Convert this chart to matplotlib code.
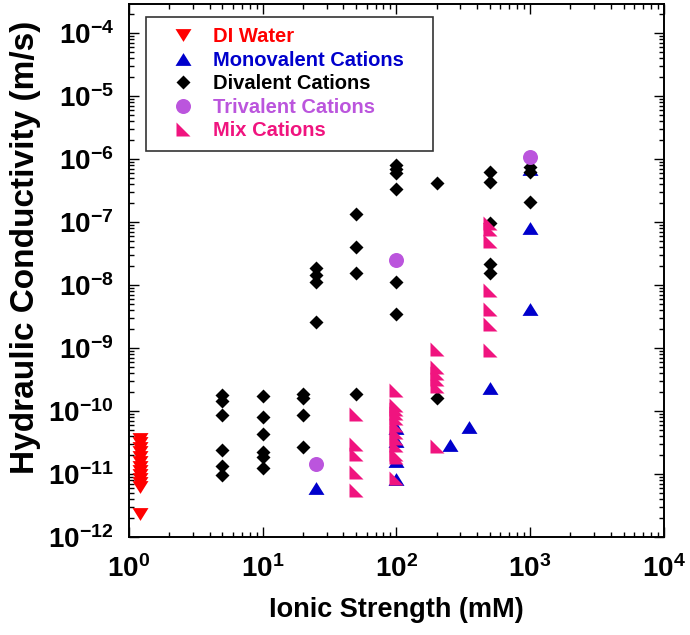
import matplotlib
matplotlib.use("Agg")
import matplotlib.pyplot as plt
from matplotlib.path import Path
from matplotlib.ticker import LogLocator, FuncFormatter, NullFormatter
import numpy as np

plt.rcParams['font.family'] = ['Liberation Sans', 'DejaVu Sans']
plt.rcParams['font.weight'] = 'bold'
plt.rcParams['mathtext.fontset'] = 'custom'
plt.rcParams['mathtext.rm'] = 'Liberation Sans:bold'
plt.rcParams['mathtext.bf'] = 'Liberation Sans:bold'
plt.rcParams['mathtext.it'] = 'Liberation Sans:bold'

# ionic strength (mM) and hydraulic conductivity (m/s) for each permeant group
di_x = [1.2] * 13
di_y = [3.6e-11, 3.1e-11, 2.6e-11, 2.2e-11, 1.85e-11, 1.55e-11, 1.3e-11,
        1.1e-11, 9.5e-12, 8.2e-12, 7.1e-12, 6.2e-12, 2.3e-12]

mono_x = [25, 100, 100, 100, 100, 250, 350, 500, 1000, 1000, 1000]
mono_y = [5.9e-12, 5.4e-11, 3.3e-11, 1.6e-11, 8.3e-12, 2.9e-11, 5.6e-11,
          2.3e-10, 7.0e-7, 8.2e-8, 4.1e-9]

div_x = ([5] * 6 + [10] * 6 + [20] * 4 + [25] * 4 + [50] * 4 + [100] * 6
         + [200] * 2 + [500] * 5 + [1000] * 3)
div_y = [1.8e-10, 1.44e-10, 8.6e-11, 2.4e-11, 1.34e-11, 9.6e-12,
         1.73e-10, 8.0e-11, 4.3e-11, 2.2e-11, 1.86e-11, 1.25e-11,
         1.86e-10, 1.6e-10, 8.6e-11, 2.7e-11,
         1.86e-8, 1.44e-8, 1.12e-8, 2.6e-9,
         1.34e-7, 4.0e-8, 1.55e-8, 1.86e-10,
         8.0e-7, 7.0e-7, 6.0e-7, 3.3e-7, 1.1e-8, 3.5e-9,
         4.1e-7, 1.59e-10,
         6.3e-7, 4.4e-7, 9.5e-8, 2.2e-8, 1.53e-8,
         7.55e-7, 6.3e-7, 2.1e-7]

tri_x = [25, 100, 1000]
tri_y = [1.44e-11, 2.5e-8, 1.09e-6]

mix_x = [50] * 5 + [100] * 12 + [200] * 6 + [500] * 7
mix_y = [9.0e-11, 3.0e-11, 2.1e-11, 1.08e-11, 5.6e-12,
         2.13e-10, 1.26e-10, 1.06e-10, 9.2e-11, 7.7e-11, 6.0e-11, 4.7e-11,
         3.7e-11, 2.9e-11, 2.1e-11, 1.84e-11, 8.6e-12,
         9.6e-10, 5.0e-10, 4.05e-10, 3.2e-10, 2.5e-10, 2.8e-11,
         9.7e-8, 7.9e-8, 5.0e-8, 8.3e-9, 4.1e-9, 2.4e-9, 9.2e-10]

RED = '#ff0000'
BLUE = '#0000cc'
PURPLE = '#bb55dd'
PINK = '#f0147f'

# slightly flattened triangles and a right-angle triangle marker
tri_up = Path([(0, 0.8), (-1, -0.8), (1, -0.8), (0, 0.8)], closed=True)
tri_down = Path([(0, -0.8), (-1, 0.8), (1, 0.8), (0, -0.8)], closed=True)
corner = Path([(-1, 1), (-1, -1), (1, -1), (-1, 1)], closed=True)

fig = plt.figure(figsize=(6.9, 6.35), dpi=100)
ax = fig.add_axes([0.187, 0.1543, 0.775, 0.8394])

ax.plot(di_x, di_y, ls='none', marker=tri_down, ms=11.5, color=RED,
        mec='none', label='DI Water')
ax.plot(mono_x, mono_y, ls='none', marker=tri_up, ms=11.5, color=BLUE,
        mec='none', label='Monovalent Cations')
ax.plot(div_x, div_y, ls='none', marker='D', ms=7.6, color='black',
        mec='none', label='Divalent Cations')
ax.plot(tri_x, tri_y, ls='none', marker='o', ms=10.8, color=PURPLE,
        mec='none', label='Trivalent Cations')
ax.plot(mix_x, mix_y, ls='none', marker=corner, ms=9.4, color=PINK,
        mec='none', label='Mix Cations')

ax.set_xscale('log')
ax.set_yscale('log')
ax.set_xlim(1, 1e4)
ax.set_ylim(1e-12, 2.9e-4)

def power_label(v, pos):
    return r'$\mathbf{10^{%d}}$' % int(round(np.log10(v)))

for axis in (ax.xaxis, ax.yaxis):
    axis.set_major_locator(LogLocator(base=10, numticks=20))
    axis.set_minor_locator(LogLocator(base=10, subs=np.arange(2, 10), numticks=20))
    axis.set_major_formatter(FuncFormatter(power_label))
    axis.set_minor_formatter(NullFormatter())

ax.tick_params(which='both', direction='in', top=True, right=True, width=1)
ax.tick_params(which='major', length=7.2, labelsize=20)
ax.tick_params(which='minor', length=3.6)
ax.tick_params(axis='x', which='major', pad=13)
ax.tick_params(axis='y', which='major', pad=11)
for sp in ax.spines.values():
    sp.set_linewidth(1.4)

ax.set_xlabel('Ionic Strength (mM)', fontsize=19.5, fontweight='bold')
ax.set_ylabel('Hydraulic Conductivity (m/s)', fontsize=24, fontweight='bold')
ax.xaxis.set_label_coords(0.5, -0.1126)
ax.yaxis.set_label_coords(-0.164, 0.544)

leg = ax.legend(loc='upper left', bbox_to_anchor=(0.0318, 0.726, 0.536, 0.2496),
                mode='expand', fontsize=14.5, frameon=True, fancybox=False,
                edgecolor='black', handlelength=2.6, handletextpad=0.22,
                labelspacing=0.22, borderpad=0.52, borderaxespad=0)
leg.get_frame().set_linewidth(1.2)
for text, col in zip(leg.get_texts(), [RED, BLUE, 'black', PURPLE, PINK]):
    text.set_color(col)
    text.set_fontweight('bold')

fig.savefig('out.png', dpi=100)
